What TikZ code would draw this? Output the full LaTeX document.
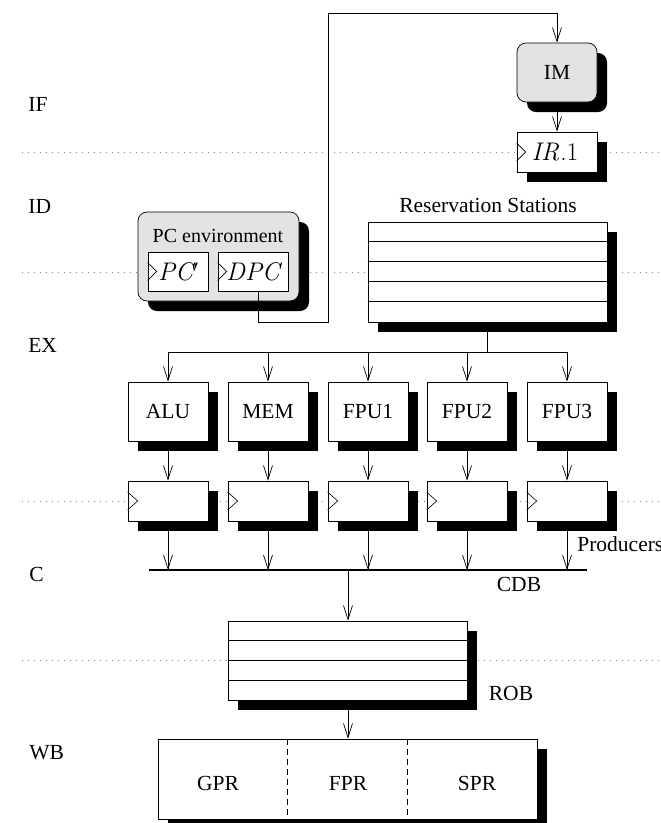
\documentclass[tikz,border=0pt]{standalone}
\usepackage[no-math]{fontspec}
\setmainfont{Liberation Serif}
\newfontfamily\lmr{Latin Modern Roman}
\usetikzlibrary{arrows.meta,shadows,calc}
\newcommand{\mvar}[1]{{\lmr\itshape\fontsize{25.5}{28}\selectfont #1}}
\newcommand{\mrm}[1]{{\lmr\fontsize{25.5}{28}\selectfont #1}}
\begin{document}
\begin{tikzpicture}[x=1pt,y=-1pt, line width=0.7pt,
  every node/.style={font=\fontsize{21.5}{24}\selectfont},
  sh/.style={drop shadow={shadow xshift=10pt,shadow yshift=-10pt,opacity=1,fill=black}},
  box/.style={draw, fill=white, sh, inner sep=0pt},
  fubox/.style={box, minimum width=80pt, minimum height=59pt},
  regbox/.style={box, minimum width=80pt, minimum height=40pt},
  arr/.style={-{Straight Barb[length=14pt,width=9pt]}},
  stage/.style={anchor=west, inner sep=0pt},
  sep/.style={gray, line width=0.8pt, dash pattern=on 0.8pt off 5.2pt},
  clk/.style={line width=0.6pt}]
\useasboundingbox (0,0) rectangle (661,823);

% stage separators
\coordinate (d1a) at (22,152); \coordinate (d1b) at (661,152);
\coordinate (d2a) at (22,272); \coordinate (d2b) at (661,272);
\coordinate (d3a) at (22,501); \coordinate (d3b) at (661,501);
\coordinate (d4a) at (22,660); \coordinate (d4b) at (661,660);
\draw[sep] (d1a) -- (d1b);
\draw[sep] (d2a) -- (d2b);
\draw[sep] (d3a) -- (d3b);
\draw[sep] (d4a) -- (d4b);

% stage labels
\node[stage] (sIF) at (28,104) {IF};
\node[stage] (sID) at (28,206) {ID};
\node[stage] (sEX) at (28,345) {EX};
\node[stage] (sC)  at (29,574) {C};
\node[stage] (sWB) at (29,753) {WB};

% IF
\node[box, fill=gray!22, rounded corners=9pt, minimum width=80pt, minimum height=59pt] (IM) at (557,72.5) {IM};
\node[regbox] (IR) at (557,152) {\hspace*{-4pt}\mvar{IR}\kern1pt\mrm{.1}};
\draw[clk] ($(IR.west)+(0,-9)$) -- ($(IR.west)+(9,0)$) -- ($(IR.west)+(0,9)$);
\draw[arr] (IM) -- (IR);

% PC environment
\node[box, fill=gray!22, rounded corners=9pt, minimum width=161pt, minimum height=89pt] (PCE) at (218.5,256.5) {};
\node[inner sep=0pt, font=\fontsize{20}{22}\selectfont] (PCEl) at (218,236) {PC environment};
\node[draw, fill=white, inner sep=0pt, minimum width=60pt, minimum height=39pt] (PCp) at (178,271.5) {\mvar{PC}\raisebox{0.38em}{\fontsize{17}{17}\selectfont$\prime$}};
\node[draw, fill=white, inner sep=0pt, minimum width=70pt, minimum height=39pt] (DPC) at (253,271.5) {\mvar{DPC}};
\draw[clk] ($(PCp.west)+(0,-9)$) -- ($(PCp.west)+(9,0)$) -- ($(PCp.west)+(0,9)$);
\draw[clk] ($(DPC.west)+(0,-9)$) -- ($(DPC.west)+(9,0)$) -- ($(DPC.west)+(0,9)$);
\coordinate (w0) at ($(DPC.south)+(5,0)$);
\coordinate (w1) at (328,322);
\coordinate (w2) at (328,13);
\draw[arr] (w0) |- (w1) -- (w2) -| (IM.north);

% Reservation stations
\node[box, minimum width=239pt, minimum height=100pt] (RS) at (487.5,272) {};
\foreach \k in {1,...,4}
  \draw ($(RS.north west)+(0,20*\k)$) -- ($(RS.north east)+(0,20*\k)$);
\node[inner sep=0pt] (RSl) at (488,205) {Reservation Stations};

% functional units
\coordinate (bus) at (487,352);
\foreach \n/\x/\t in {A/168/ALU, B/268/MEM, C/368/FPU1, D/467/FPU2, E/567/FPU3}{
  \node[fubox] (FU\n) at (\x,411.5) {\t};
  \node[regbox] (R\n) at (\x,501) {};
  \draw[clk] ($(R\n.west)+(0,-9)$) -- ($(R\n.west)+(10,0)$) -- ($(R\n.west)+(0,9)$);
  \draw[arr] (FU\n.north |- bus) -- (FU\n.north);
  \draw[arr] (FU\n) -- (R\n);
}
\draw (RS.south -| bus) -- (bus);
\draw (FUA.north |- bus) -- (FUE.north |- bus);

% CDB
\coordinate (cdbL) at (149,570);
\coordinate (cdbR) at (587,570);
\draw[line width=2pt] (cdbL) -- (cdbR);
\foreach \n in {A,B,C,D,E}
  \draw[arr] (R\n.south) -- (R\n.south |- cdbL);
\node[anchor=west, inner sep=0pt] (prod) at (577,544) {Producers};
\node[inner sep=0pt] (cdbl) at (519,584) {CDB};

% ROB
\node[box, minimum width=239pt, minimum height=79pt] (ROB) at (347.5,660.5) {};
\foreach \k in {1,2,3}
  \draw ($(ROB.north west)+(0,19.75*\k)$) -- ($(ROB.north east)+(0,19.75*\k)$);
\node[inner sep=0pt] (robl) at (511,693) {ROB};
\coordinate (cdbM) at (348,570);
\draw[arr] (cdbM) -- (cdbM |- ROB.north);

% register files
\node[box, minimum width=379pt, minimum height=80pt] (RF) at (347.5,779) {};
\draw[dash pattern=on 6pt off 4pt] ($(RF.north west)+(130,0)$) -- ($(RF.south west)+(130,0)$);
\draw[dash pattern=on 6pt off 4pt] ($(RF.north west)+(250,0)$) -- ($(RF.south west)+(250,0)$);
\node (GPR) at (218,783) {GPR};
\node (FPR) at (348,783) {FPR};
\node (SPR) at (477,783) {SPR};
\draw[arr] (cdbM |- ROB.south) -- (cdbM |- RF.north);
\end{tikzpicture}
\end{document}
